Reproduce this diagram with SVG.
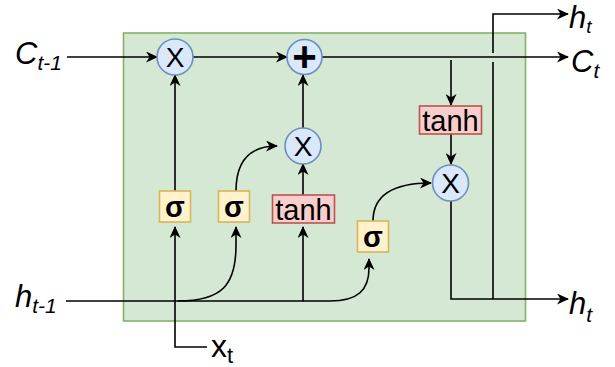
<svg xmlns="http://www.w3.org/2000/svg" width="615" height="367" viewBox="0 0 615 367">
<defs>
<marker id="arr" viewBox="0 0 12 11" refX="11" refY="5.5" markerWidth="12" markerHeight="11" markerUnits="userSpaceOnUse" orient="auto">
<path d="M0,0 L12,5.5 L0,11 L3.5,5.5 Z" fill="#000"/>
</marker>
<style>
.edge{fill:none;stroke:#000;stroke-width:1.6}
.arr{marker-end:url(#arr)}
.circ{fill:#dae8fc;stroke:#6c8ebf;stroke-width:1.6}
.sig{fill:#fff2cc;stroke:#d6b656;stroke-width:1.6}
.tanh{fill:#f8cecc;stroke:#b85450;stroke-width:1.6}
.t{font-family:"Liberation Sans",Arial,sans-serif;fill:#000;text-anchor:middle}
.lbl{font-family:"Liberation Sans",Arial,sans-serif;fill:#000;font-style:italic;font-size:31px}
</style>
</defs>
<rect id="cell" x="123.5" y="33" width="402" height="288" fill="#d5e8d4" stroke="#82b366" stroke-width="1.6"/>
<g id="connectors">
<path class="edge arr" d="M67,57 L157,57"/>
<path class="edge arr" d="M193,57 L287,57"/>
<path class="edge arr" d="M322,57 L568,57"/>
<path class="edge arr" d="M451,60 L451,105"/>
<path class="edge arr" d="M451,134 L451,164"/>
<path class="edge arr" d="M451,201 L451,299 L568,299"/>
<path class="edge" d="M493,299 L493,62"/>
<path class="edge arr" d="M493,53 L493,14 L568,14"/>
<path class="edge arr" d="M175,191 L175,75"/>
<path class="edge arr" d="M207,347 L175,347 L175,227"/>
<path class="edge arr" d="M66,301 L303,301 L303,227"/>
<path class="edge arr" d="M303,301 L330,301 C358,301 369,290 369,268 L369,259"/>
<path class="edge arr" d="M178,301 C222,301 236,285 236,245 L236,227"/>
<path class="edge arr" d="M236,191 C236,160 250,146 277,146"/>
<path class="edge arr" d="M373,221 C373,196 392,183 431,183"/>
<path class="edge arr" d="M303,195 L303,164"/>
<path class="edge arr" d="M303,128 L303,75"/>
</g>
<g id="mul1"><circle class="circ" cx="175" cy="57" r="18"/><text class="t" x="175" y="67" font-size="28">X</text></g>
<g id="add"><circle class="circ" cx="304.5" cy="57" r="17.5"/><text class="t" x="304.5" y="71" font-size="42" font-weight="bold">+</text></g>
<g id="mul2"><circle class="circ" cx="303" cy="146" r="18"/><text class="t" x="303" y="156" font-size="28">X</text></g>
<g id="mul3"><circle class="circ" cx="450.5" cy="183" r="18"/><text class="t" x="450.5" y="193" font-size="28">X</text></g>
<g id="sig1"><rect class="sig" x="159.5" y="191" width="31" height="31"/><text class="t" x="175" y="217" font-size="29" font-weight="bold">σ</text></g>
<g id="sig2"><rect class="sig" x="218.5" y="191" width="31" height="31"/><text class="t" x="234" y="217" font-size="29" font-weight="bold">σ</text></g>
<g id="tanh2"><rect class="tanh" x="272.5" y="195" width="62" height="28"/><text class="t" x="303.5" y="220" font-size="29">tanh</text></g>
<g id="sig3"><rect class="sig" x="357.5" y="221" width="31" height="31"/><text class="t" x="373" y="247" font-size="29" font-weight="bold">σ</text></g>
<g id="tanh1"><rect class="tanh" x="419.5" y="106" width="62" height="28"/><text class="t" x="450.5" y="131" font-size="29">tanh</text></g>
<g id="labels">
<text class="lbl" x="15" y="64">C<tspan dy="6" font-size="21">t-1</tspan></text>
<text class="lbl" x="15" y="307">h<tspan dy="6" font-size="21">t-1</tspan></text>
<text class="lbl" x="571" y="72">C<tspan dy="6" font-size="21">t</tspan></text>
<text class="lbl" x="569" y="28" font-size="27">h<tspan dy="5" font-size="19">t</tspan></text>
<text class="lbl" x="569" y="314">h<tspan dy="8" font-size="21">t</tspan></text>
<text x="211" y="357" font-family="Liberation Sans,Arial,sans-serif" font-size="32">x<tspan dy="6" font-size="22">t</tspan></text>
</g>
</svg>
